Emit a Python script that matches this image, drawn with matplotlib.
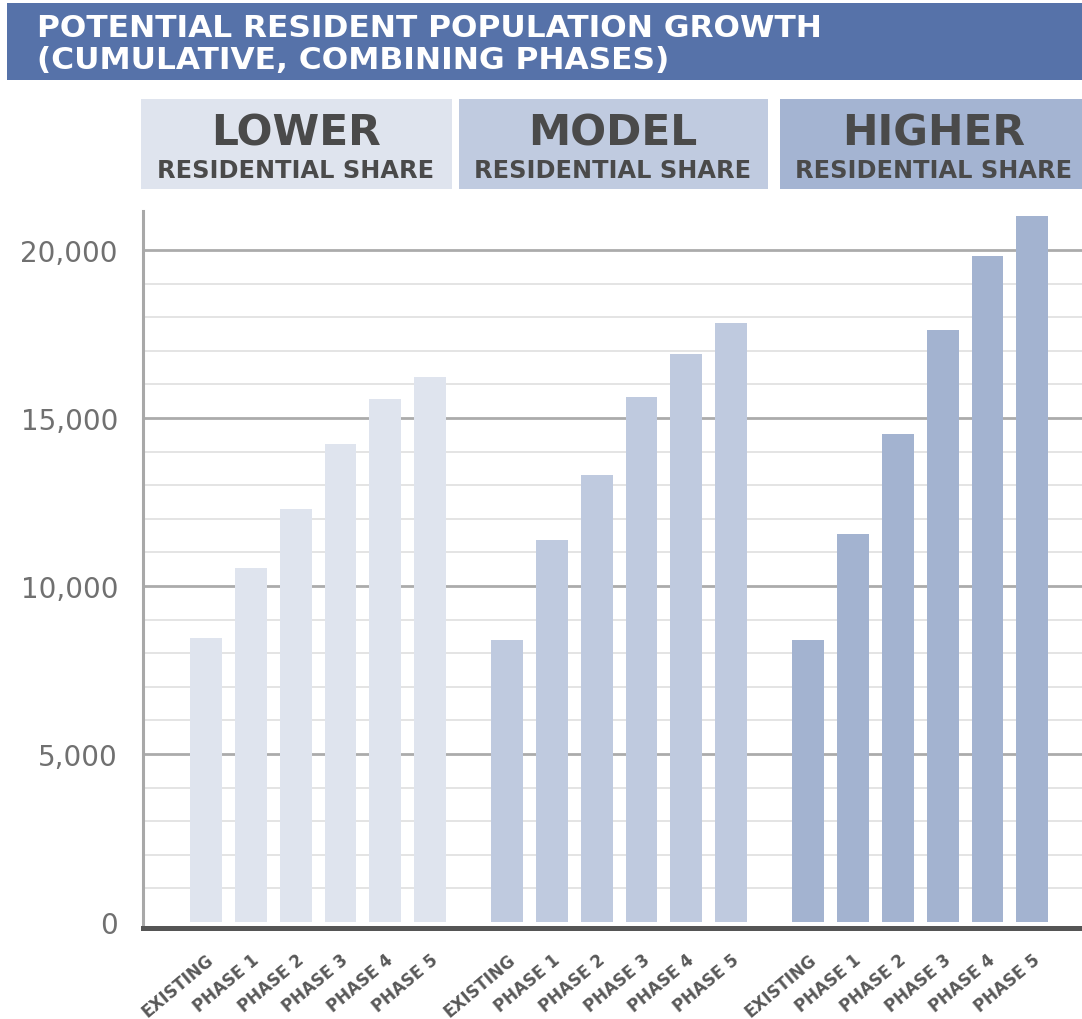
import matplotlib
matplotlib.use('Agg')
import matplotlib.pyplot as plt
from matplotlib.patches import Rectangle

# ---------------- data ----------------
scenarios = ['LOWER', 'MODEL', 'HIGHER']
scenario_sub = 'RESIDENTIAL SHARE'
phases = ['EXISTING', 'PHASE 1', 'PHASE 2', 'PHASE 3', 'PHASE 4', 'PHASE 5']
lower_vals = [8450, 10550, 12300, 14230, 15570, 16210]
model_vals = [8400, 11360, 13310, 15610, 16900, 17820]
higher_vals = [8400, 11550, 14520, 17630, 19830, 21000]
ytick_vals = [0, 5000, 10000, 15000, 20000]
ytick_labels = ['0', '5,000', '10,000', '15,000', '20,000']
title_lines = ['POTENTIAL RESIDENT POPULATION GROWTH', '(CUMULATIVE, COMBINING PHASES)']

# ---------------- style ----------------
W, H = 1082, 1020
font = 'DejaVu Sans'

bar_colors = ['#dfe4ee', '#bfcadf', '#a3b3d0']
box_colors = ['#dfe4ee', '#c0cbe0', '#a4b4d2']
banner_color = '#5672a9'
header_text = '#4a4a4a'

fig = plt.figure(figsize=(W / 100, H / 100), dpi=100)
fig.patch.set_facecolor('white')

def fx(px):
    return px / W

def fy(py):
    return 1 - py / H

# banner
fig.patches.append(Rectangle((fx(7), fy(81)), 1, 77 / H, transform=fig.transFigure,
                             facecolor=banner_color, edgecolor='none', zorder=0))
fig.text(fx(37), fy(37), title_lines[0], color='white', fontsize=22.5, fontweight='bold',
         family=font, va='baseline', ha='left')
fig.text(fx(37), fy(69), title_lines[1], color='white', fontsize=22.5, fontweight='bold',
         family=font, va='baseline', ha='left')

# header boxes
boxes = [(141, 452), (459, 768), (780, 1082)]
centers = [296, 613, 934]
for (x0, x1), xc, c, name in zip(boxes, centers, box_colors, scenarios):
    fig.patches.append(Rectangle((fx(x0), fy(190)), fx(x1 - x0), 90 / H, transform=fig.transFigure,
                                 facecolor=c, edgecolor='none', zorder=0))
    fig.text(fx(xc), fy(146), name, color=header_text, fontsize=30.5, fontweight='bold',
             family=font, ha='center', va='baseline')
    fig.text(fx(xc), fy(178), scenario_sub, color=header_text, fontsize=17.3, fontweight='bold',
             family=font, ha='center', va='baseline')

# axes
ax = fig.add_axes([fx(143), fy(929), 1 - fx(143), (929 - 212) / H])
ax.set_facecolor('none')
step = 6.72
series = [lower_vals, model_vals, higher_vals]
positions = []
for g, vals in enumerate(series):
    xs = [g * step + i for i in range(len(phases))]
    positions += xs
    ax.bar(xs, vals, width=0.71, color=bar_colors[g], zorder=3)

ax.set_xlim(-1.406, 19.55)
ax.set_ylim(-179, 21160)

for v in range(1000, 21000, 1000):
    if v % 5000 == 0:
        ax.axhline(v, color='#ababab', lw=2.0, zorder=1)
    else:
        ax.axhline(v, color='#dddddd', lw=1.1, zorder=1)

for s in ['top', 'right']:
    ax.spines[s].set_visible(False)
ax.spines['left'].set_color('#a8a8a8')
ax.spines['left'].set_linewidth(2.2)
ax.spines['bottom'].set_color('#555555')
ax.spines['bottom'].set_linewidth(3.6)

ax.set_yticks(ytick_vals)
ax.set_yticklabels(ytick_labels, fontsize=20, color='#707070', family=font)
ax.tick_params(axis='y', length=0, pad=18)

ax.set_xticks(positions)
ax.set_xticklabels(phases * 3, rotation=40, ha='right', va='top', rotation_mode='anchor',
                   fontsize=12, fontweight='bold', color='#585858', family=font)
ax.tick_params(axis='x', length=0, pad=16)

fig.savefig('out.png', dpi=100)
